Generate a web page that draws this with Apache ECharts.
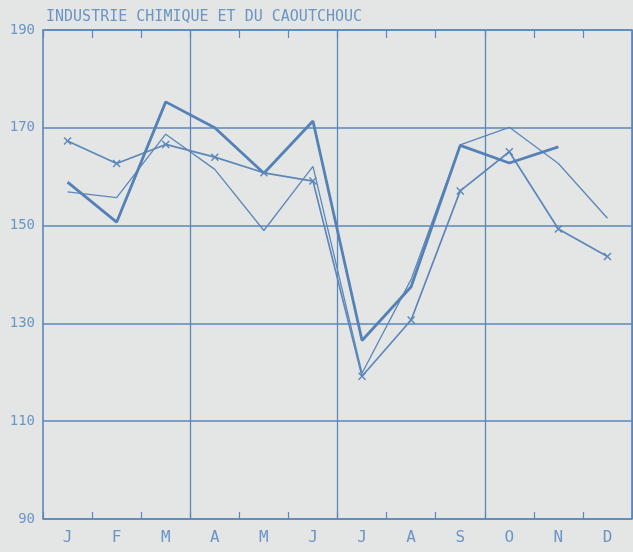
<!DOCTYPE html>
<html>
<head>
<meta charset="utf-8">
<script src="https://cdn.jsdelivr.net/npm/echarts@6/dist/echarts.min.js"></script>
<style>
html,body{margin:0;padding:0;background:#e4e6e5;}
#chart{width:633px;height:552px;}
</style>
</head>
<body>
<div id="chart"></div>
<script>
const titleText = 'INDUSTRIE CHIMIQUE ET DU CAOUTCHOUC';
const months = ['J','F','M','A','M','J','J','A','S','O','N','D'];
const yTicks = [90, 110, 130, 150, 170, 190];
const seriesThick = [158.9, 150.7, 175.3, 170.0, 160.7, 171.4, 126.5, 137.5, 166.4, 162.8, 166.1, null];
const seriesCross = [167.3, 162.7, 166.6, 164.0, 160.8, 159.1, 119.2, 130.7, 157.1, 165.1, 149.3, 143.7];
const seriesThin  = [156.9, 155.7, 168.7, 161.5, 149.0, 162.1, 119.8, 139.0, 166.5, 170.1, 162.7, 151.5];

const C = '#5b87ba';
const LBL = '#6a95c4';
const chart = echarts.init(document.getElementById('chart'), null, {renderer:'canvas'});
chart.setOption({
  backgroundColor: '#e4e6e5',
  animation: false,
  title: {
    text: titleText,
    left: 41, top: 5,
    textStyle: {fontFamily: 'DejaVu Sans Mono', fontSize: 15, fontWeight: 'normal', color: LBL}
  },
  grid: {left: 43, right: 1, top: 30, bottom: 33, show: true, borderColor: C, borderWidth: 1.6, backgroundColor: 'transparent'},
  xAxis: [{
    type: 'category', data: months, boundaryGap: true, position: 'bottom',
    axisLine: {show: false},
    axisTick: {show: true, inside: true, length: 7, lineStyle: {color: C, width: 1.2}},
    axisLabel: {color: LBL, fontFamily: 'DejaVu Sans Mono', fontSize: 16, margin: 11},
    splitLine: {show: true, interval: function(i){ return i === 3 || i === 6 || i === 9; }, lineStyle: {color: C, width: 1.3}}
  }, {
    type: 'category', data: months, boundaryGap: true, position: 'top',
    axisLine: {show: false},
    axisTick: {show: true, inside: true, length: 8, lineStyle: {color: C, width: 1.2}},
    axisLabel: {show: false},
    splitLine: {show: false}
  }],
  yAxis: {
    type: 'value', min: yTicks[0], max: yTicks[yTicks.length-1], interval: 20,
    axisLine: {show: false}, axisTick: {show: false},
    axisLabel: {color: LBL, fontFamily: 'DejaVu Sans Mono', fontSize: 14, margin: 8},
    splitLine: {show: true, lineStyle: {color: C, width: 1.6}}
  },
  series: [{
    type: 'line', data: seriesThin, symbol: 'none',
    lineStyle: {color: C, width: 1.3}
  }, {
    type: 'line', data: seriesCross,
    symbol: 'path://M0,0L10,10M10,0L0,10', symbolSize: 7,
    itemStyle: {color: C, borderColor: C, borderWidth: 1.4},
    lineStyle: {color: C, width: 1.7}
  }, {
    type: 'line', data: seriesThick, symbol: 'none', connectNulls: false,
    lineStyle: {color: '#5481b6', width: 2.8}
  }]
});
</script>
</body>
</html>
